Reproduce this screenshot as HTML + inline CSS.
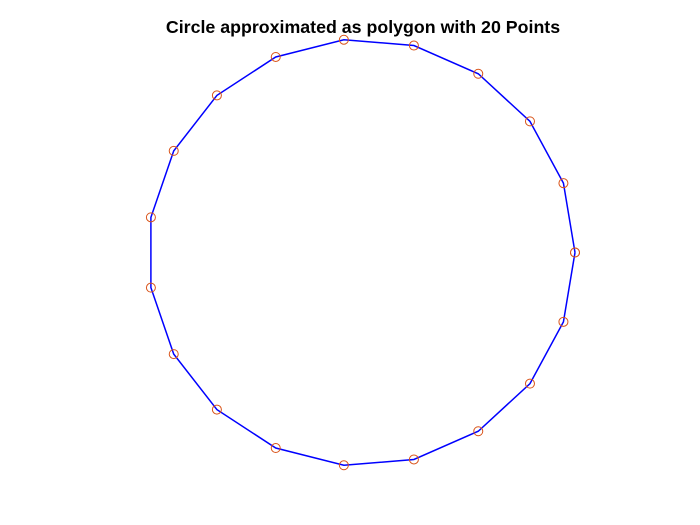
<!DOCTYPE html>
<html>
<head>
<meta charset="utf-8">
<style>
  html,body{margin:0;padding:0;background:#fff;}
  svg{display:block;}
</style>
</head>
<body>
<svg id="chart" width="700" height="525" viewBox="0 0 700 525" xmlns="http://www.w3.org/2000/svg">
  <rect x="0" y="0" width="700" height="525" fill="#ffffff"/>
  <text x="363" y="33" text-anchor="middle" font-family="Liberation Sans, sans-serif" font-size="17.8" font-weight="bold" fill="#000">Circle approximated as polygon with 20 Points</text>
  <g id="plot"></g>
</svg>
<script>
const xValues = [1, 0.9458, 0.7891, 0.5469, 0.2455, -0.0826, -0.4017, -0.6773, -0.8795, -0.9864, -0.9864, -0.8795, -0.6773, -0.4017, -0.0826, 0.2455, 0.5469, 0.7891, 0.9458, 1];
const yValues = [0, -0.3247, -0.6142, -0.8372, -0.9694, -0.9966, -0.9158, -0.7357, -0.4759, -0.1646, 0.1646, 0.4759, 0.7357, 0.9158, 0.9966, 0.9694, 0.8372, 0.6142, 0.3247, 0];

const NS = 'http://www.w3.org/2000/svg';
const plot = document.getElementById('plot');
function sx(v){ return 361.5 + 213.5 * v; }
function sy(v){ return 252.5 - 213.5 * v; }

const pts = xValues.map((x,i) => sx(x).toFixed(2) + ',' + sy(yValues[i]).toFixed(2)).join(' ');
const line = document.createElementNS(NS, 'polyline');


line.setAttribute('points', pts);
line.setAttribute('fill', 'none');
line.setAttribute('stroke', '#0000ff');
line.setAttribute('stroke-width', '1.5');
plot.appendChild(line);

xValues.forEach((x,i) => {
  const c = document.createElementNS(NS, 'circle');
  
  
  c.setAttribute('cx', sx(x));
  c.setAttribute('cy', sy(yValues[i]));
  c.setAttribute('r', '4.5');
  c.setAttribute('fill', 'none');
  c.setAttribute('stroke', '#d95319');
  c.setAttribute('stroke-width', '1');
  plot.appendChild(c);
});
</script>
</body>
</html>
